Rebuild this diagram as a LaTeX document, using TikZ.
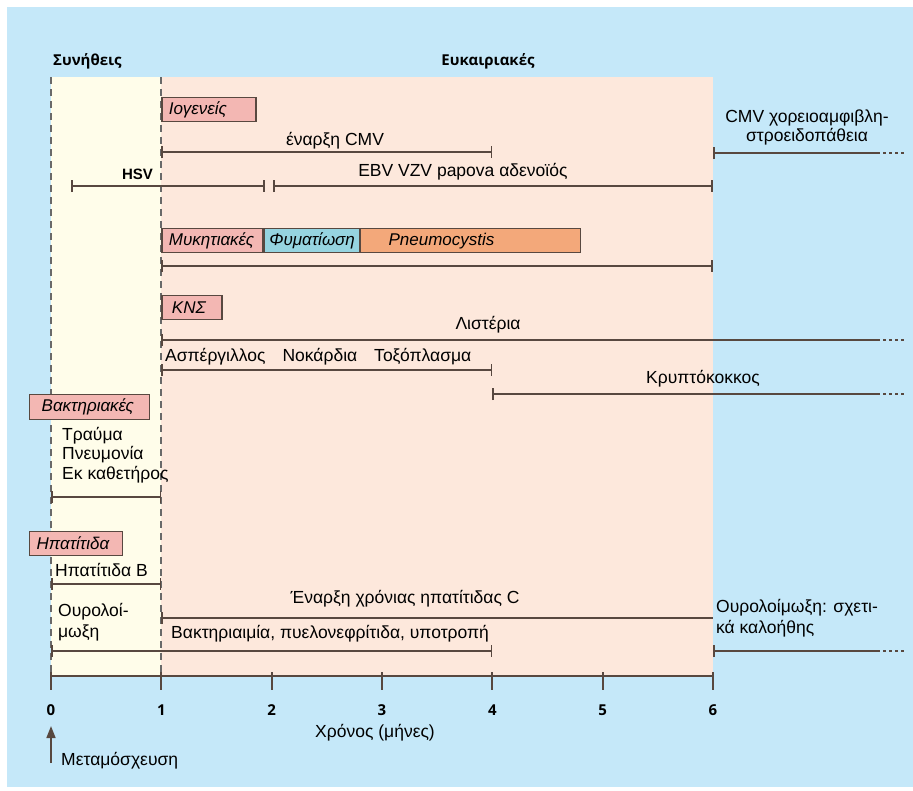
\documentclass[tikz,border=0pt]{standalone}
\usepackage{fontspec}
\setmainfont{Liberation Sans}
\newfontfamily\hdfont{Open Sans}
\usetikzlibrary{arrows.meta,positioning}
\definecolor{skyb}{RGB}{197,232,249}
\definecolor{cream}{RGB}{255,253,234}
\definecolor{peach}{RGB}{253,232,220}
\definecolor{rose}{RGB}{243,183,179}
\definecolor{tbcol}{RGB}{150,212,224}
\definecolor{apricot}{RGB}{243,168,122}
\definecolor{linec}{RGB}{88,72,64}
\definecolor{dashc}{RGB}{105,105,105}
\tikzset{
	span/.style={draw=linec,line width=2pt,{Bar[width=12pt,line width=1.6pt]}-{Bar[width=12pt,line width=1.6pt]}},
	onward/.style={draw=linec,line width=2pt,{Bar[width=12pt,line width=1.6pt]}-},
	more/.style={draw=linec,line width=2pt,dash pattern=on 3pt off 3pt},
	grp/.style={draw=linec,line width=1.3pt,fill=rose,font=\itshape\fontsize{17}{19}\selectfont,anchor=north west,inner xsep=7pt,inner ysep=0pt,minimum height=24pt,align=left},
	lbl/.style={font=\fontsize{17.5}{19.5}\selectfont,inner sep=0pt},
	hd/.style={font=\hdfont\bfseries\fontsize{15}{18}\selectfont,inner sep=0pt}
}
\begin{document}
\begin{tikzpicture}[x=110.33pt,y=-1pt]
	\fill[white](-0.4622,0)rectangle(7.8128,790);
	\useasboundingbox(-0.4622,0)rectangle(7.8128,790);
	\fill[skyb](-0.3988,7)rectangle(7.8128,787);
	\fill[cream](0,77)rectangle(1,676);
	\fill[peach](1,77)rectangle(6,676);
	\foreach\m in{0,1}{\draw[dashc,line width=2pt,dash pattern=on 7pt off 5pt](\m,77)--(\m,676);}
	\node[hd,anchor=base west](usual)at(0.018,65){Συνήθεις};
	\node[hd,anchor=base](opport)at(3.961,65){Ευκαιριακές};
	%groups
	\node[grp,text width=80pt](viral)at(1,97){Ιογενείς};
	\node[grp,text width=87pt](fungal)at(1,228){Μυκητιακές};
	\node[grp,text width=85pt,fill=tbcol,anchor=north west,inner xsep=5pt](tb)at(fungal.north east){Φυματίωση};
	\node[grp,text width=206pt,fill=apricot,anchor=north west](pcp)at(tb.north east){\hspace{21pt}Pneumocystis};
	\node[grp,text width=46pt](cns)at(1,295){\hspace{3pt}ΚΝΣ};
	\node[grp,text width=106pt,minimum height=25pt,inner xsep=7pt](bact)at(-0.199,394){\hspace{5pt}Βακτηριακές};
	\node[grp,text width=79pt,inner xsep=7pt](hep)at(-0.199,531){Ηπατίτιδα};
	%spans
	\foreach\n/\a/\b/\y in{cmv/1/4/152,hsv/0.181/1.940/186,ebv/2.012/6/186,fung/1/6/266,asp/1/4/370,bac/0/1/497,hepb/0/1/584,uti/0/4/651}{\coordinate(\n A)at(\a,\y);\coordinate(\n B)at(\b,\y);\draw[span](\n A)--(\n B);}
	\foreach\n/\a/\y in{cmvr/6/153,list/1/340,cry/4/394,utir/6/651}{\coordinate(\n A)at(\a,\y);\coordinate(\n B)at(7.487,\y);\coordinate(\n C)at(7.749,\y);\draw[onward](\n A)--(\n B);\draw[more](\n B)--(\n C);}
	\coordinate(hepcA)at(1,618);\coordinate(hepcB)at(6,618);
	\draw[onward](hepcA)--(hepcB);
	\node[lbl,anchor=base](cmvt)at(2.574,145){έναρξη CMV};
	\node[lbl,anchor=base east,font=\bfseries\fontsize{15}{18}\selectfont](hsvt)at(0.925,179){HSV};
	\node[lbl,anchor=base west](ebvt)at(2.783,176){EBV VZV papova αδενοϊός};
	\node[lbl,align=center,anchor=center,font=\fontsize{17.5}{18.5}\selectfont](cmvrt)at(6.852,127.5){CMV χορειοαμφιβλη-\\στροειδοπάθεια};
	\node[lbl,anchor=base](listt)at(3.961,329){Λιστέρια};
	\node[lbl,anchor=base west](aspt)at(1.033,361){Ασπέργιλλος\hspace{17pt}Νοκάρδια\hspace{17pt}Τοξόπλασμα};
	\node[lbl,anchor=base](cryt)at(5.909,383){Κρυπτόκοκκος};
	\node[lbl,align=left,anchor=north west](bactl)at(0.1,427){Τραύμα\\Πνευμονία\\Εκ καθετήρος};
	\node[lbl,anchor=base west](hepbt)at(0.036,576){Ηπατίτιδα Β};
	\node[lbl,anchor=base](hepct)at(3.209,603){Έναρξη χρόνιας ηπατίτιδας C};
	\node[lbl,align=left,anchor=north west,font=\fontsize{17.5}{21}\selectfont](utit)at(0.063,603.5){Ουρολοί-\\μωξη};
	\node[lbl,anchor=base west](bactt)at(1.088,638){Βακτηριαιμία, πυελονεφρίτιδα, υποτροπή};
	\node[lbl,align=left,anchor=north west,font=\fontsize{17.5}{21}\selectfont](utirt)at(6.027,599.5){Ουρολοίμωξη: σχετι-\\κά καλοήθης};
	%time axis
	\coordinate(T0)at(0,676);\coordinate(T6)at(6,676);
	\draw[linec,line width=2pt](T0)--(T6);
	\foreach\i in{0,...,6}{\draw[linec,line width=1.8pt](\i,672)--(\i,690);\node[hd,anchor=base](tick\i)at(\i,715){\i};}
	\node[lbl,anchor=base](time)at(2.937,737){Χρόνος (μήνες)};
	\node[lbl,anchor=base west](tx)at(0.091,765){Μεταμόσχευση};
	\coordinate(txA)at(0,763);\coordinate(txB)at(0,726);
	\draw[linec,line width=1.6pt,-{Triangle[length=12pt,width=9pt]}](txA)--(txB);
\end{tikzpicture}
\end{document}
